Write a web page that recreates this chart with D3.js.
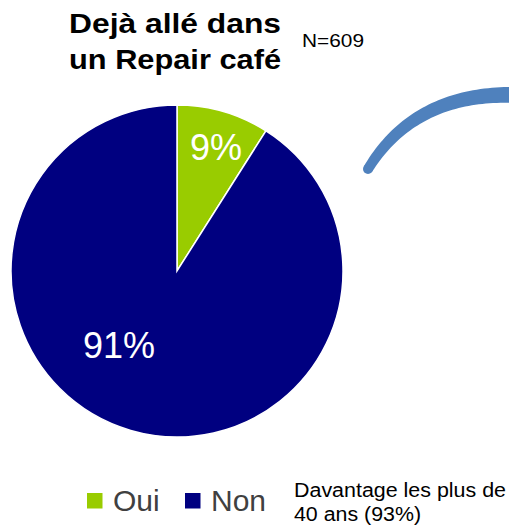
<!DOCTYPE html>
<html>
<head>
<meta charset="utf-8">
<script src="https://cdn.jsdelivr.net/npm/d3@7"></script>
<style>
  html, body { margin: 0; padding: 0; background: #fff; }
  svg { display: block; font-family: "Liberation Sans", Arial, sans-serif; }
</style>
</head>
<body>
<div id="chart"></div>
<script>
// ── DATA ─────────────────────────────────────────────────────────────────────
const categories = ['Oui', 'Non'];
const values     = [9, 91];
const titleLines = ['Dejà allé dans', 'un Repair café'];
const sampleNote = 'N=609';
const noteLines  = ['Davantage les plus de', '40 ans (93%)'];

// ── CONFIG ───────────────────────────────────────────────────────────────────
const W = 509, H = 525;
const CX = 177, CY = 271, R = 166;

const color = d3.scaleOrdinal()
  .domain(categories)
  .range(['#99cc00', '#000080']);

// label offsets from centre (PowerPoint places them freely)
const LABEL_POS = { Oui: [39, -111], Non: [-58, 87] };

// widths as measured on the original rendering
const TITLE_LEN = [212, 212];
const NOTE_LEN  = [212, 127];

// ── SVG ──────────────────────────────────────────────────────────────────────
const svg = d3.select('#chart')
  .append('svg')
    .attr('width', W)
    .attr('height', H);

// ── TITLE ────────────────────────────────────────────────────────────────────
svg.selectAll('.title')
  .data(titleLines)
  .join('text')
    .attr('class', 'title')
    .attr('x', 175)
    .attr('y', (d, i) => 33 + i * 36)
    .attr('text-anchor', 'middle')
    .attr('font-size', '28px')
    .attr('font-weight', 'bold')
    .attr('fill', '#000')
    .attr('textLength', (d, i) => TITLE_LEN[i])
    .attr('lengthAdjust', 'spacingAndGlyphs')
    .text(d => d);

svg.append('text')
  .attr('x', 302)
  .attr('y', 47)
  .attr('font-size', '19px')
  .attr('textLength', 62)
  .attr('lengthAdjust', 'spacingAndGlyphs')
  .attr('fill', '#000')
  .text(sampleNote);

// ── PIE ──────────────────────────────────────────────────────────────────────
const pie = d3.pie().sort(null).value(d => d.value);
const arc = d3.arc().innerRadius(0).outerRadius(R);
const slices = pie(categories.map((c, i) => ({ cat: c, value: values[i] })));

const pieG = svg.append('g')
  .attr('transform', `translate(${CX},${CY})`);

pieG.selectAll('path')
  .data(slices)
  .join('path')
    .attr('d', arc)
    .attr('fill', d => color(d.data.cat))
    .attr('stroke', '#fff')
    .attr('stroke-width', 1.5);

pieG.selectAll('.lbl')
  .data(slices)
  .join('text')
    .attr('class', 'lbl')
    .attr('x', d => LABEL_POS[d.data.cat][0])
    .attr('y', d => LABEL_POS[d.data.cat][1])
    .attr('text-anchor', 'middle')
    .attr('font-size', '36px')
    .attr('fill', '#fff')
    .text(d => d.data.value + '%');

// ── CALLOUT ARC (decoration) ─────────────────────────────────────────────────
const p0 = [368, 169], p1 = [415, 92], p2 = [516, 95];
const bez = t => {
  const u = 1 - t;
  return [u * u * p0[0] + 2 * u * t * p1[0] + t * t * p2[0],
          u * u * p0[1] + 2 * u * t * p1[1] + t * t * p2[1]];
};
const steps = d3.range(0, 1.0001, 0.02);
const left = [], right = [];
steps.forEach(t => {
  const [x, y] = bez(t);
  const u = 1 - t;
  const dx = 2 * u * (p1[0] - p0[0]) + 2 * t * (p2[0] - p1[0]);
  const dy = 2 * u * (p1[1] - p0[1]) + 2 * t * (p2[1] - p1[1]);
  const len = Math.hypot(dx, dy);
  const w = (10 + 6 * t) / 2;
  left.push([x - dy / len * w, y + dx / len * w]);
  right.push([x + dy / len * w, y - dx / len * w]);
});
svg.append('path')
  .attr('d', d3.line()([...left, ...right.reverse()]) + 'Z')
  .attr('fill', '#4f81bd');
svg.append('circle')
  .attr('cx', p0[0]).attr('cy', p0[1]).attr('r', 5)
  .attr('fill', '#4f81bd');

// ── LEGEND ───────────────────────────────────────────────────────────────────
const legendX = d3.scaleOrdinal().domain(categories).range([87, 185]);

const leg = svg.selectAll('.leg')
  .data(categories)
  .join('g')
    .attr('class', 'leg')
    .attr('transform', d => `translate(${legendX(d)},493)`);

leg.append('rect')
  .attr('width', 15.5)
  .attr('height', 15.5)
  .attr('fill', d => color(d));

leg.append('text')
  .attr('x', 26)
  .attr('y', 18)
  .attr('font-size', '30px')
  .attr('fill', '#404040')
  .text(d => d);

// ── NOTE ─────────────────────────────────────────────────────────────────────
svg.selectAll('.note')
  .data(noteLines)
  .join('text')
    .attr('class', 'note')
    .attr('x', 294)
    .attr('y', (d, i) => 497 + i * 24)
    .attr('font-size', '20px')
    .attr('fill', '#000')
    .attr('textLength', (d, i) => NOTE_LEN[i])
    .attr('lengthAdjust', 'spacingAndGlyphs')
    .text(d => d);
</script>
</body>
</html>
